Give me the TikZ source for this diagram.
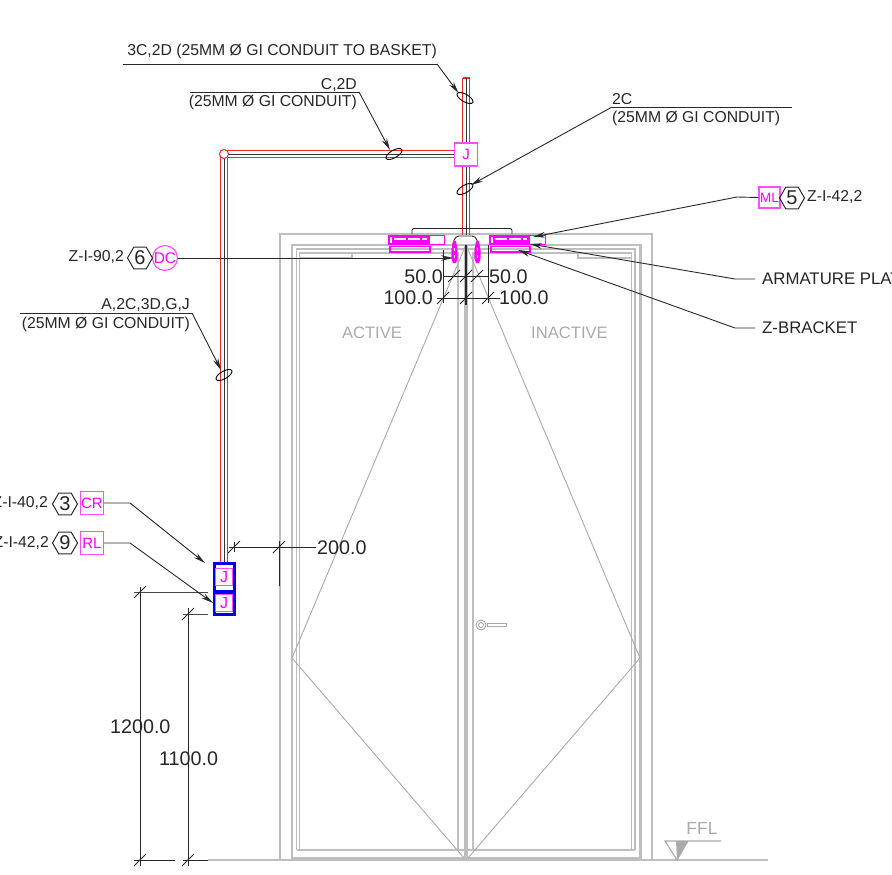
\documentclass[tikz,border=0pt]{standalone}
\usepackage{fontspec}
\setmainfont{Liberation Sans}
\usetikzlibrary{arrows.meta,shapes.geometric,calc}
\definecolor{mag}{RGB}{255,0,255}
\definecolor{gl}{RGB}{170,170,170}
\definecolor{gm}{RGB}{190,190,190}
\definecolor{dk}{RGB}{40,40,40}
\definecolor{redc}{RGB}{240,40,40}
\tikzset{
 x=1pt,y=-1pt,
 lbl/.style={font=\fontsize{15.75}{16}\selectfont,text=black!85,inner sep=0pt},
 lblb/.style={font=\fontsize{16.8}{17}\selectfont,text=black!85,inner sep=0pt},
 dimt/.style={font=\fontsize{19.7}{20}\selectfont,text=black!85,inner sep=0pt},
 graytxt/.style={font=\fontsize{16.6}{17}\selectfont,text=gl,inner sep=0pt},
 leader/.style={draw=dk,line width=0.9pt},
 arrowl/.style={leader,-{Stealth[length=12pt,width=5.5pt]}},
 magbox/.style={draw=mag!70,line width=1.1pt,fill=white,text=mag,inner sep=0pt,font=\fontsize{15}{15}\selectfont,rectangle,minimum width=23pt,minimum height=23pt},
 hexa/.style={regular polygon,regular polygon sides=6,draw=dk,line width=1pt,minimum size=25pt,inner sep=0pt,font=\fontsize{20}{20}\selectfont,text=black!85},
 dline/.style={draw=dk,line width=0.9pt},
 tick/.style={draw=dk,line width=0.9pt},
 frameg/.style={draw=gm,line width=1.1pt},
 framet/.style={draw=gm,line width=2.4pt},
 swing/.style={draw=gl,line width=0.9pt},
 ovalc/.style={ellipse,draw=black,line width=0.9pt,minimum width=18pt,minimum height=7.5pt,inner sep=0pt},
 magthick/.style={draw=mag,line width=1.6pt},
 magthin/.style={draw=mag,line width=0.8pt},
 redl/.style={draw=redc,line width=1.2pt},
 blkl/.style={draw=black!80,line width=1pt},
}
\newcommand{\dimtick}[2]{\draw[tick] (#1-6,#2+6) -- (#1+6,#2-6);}
\begin{document}
\begin{tikzpicture}
\path[use as bounding box] (0,0) rectangle (892,875);
% floor
\draw[draw=gm,line width=1.3pt] (208,860) -- (768,860);
% door frame
\draw[frameg] (280,860) -- (280,234) -- (652,234) -- (652,860);
\draw[framet] (292,858) -- (292,245) -- (640.5,245) -- (640.5,858) -- cycle;
\draw[frameg] (296.5,850) -- (296.5,249) -- (635,249) -- (635,850);
\draw[frameg] (299.5,850) -- (299.5,253) -- (458,253) -- (458,850) -- cycle;
\draw[frameg] (473,850) -- (473,253) -- (631.5,253) -- (631.5,850) -- cycle;
\draw[frameg] (296.5,850) -- (635,850);
\draw[draw=gm,line width=3.5pt] (466,245) -- (466,858);
\draw[frameg] (299.5,258) rectangle (352,253);
\draw[frameg] (578,258) rectangle (631.5,253);
% swing
\draw[swing] (465,247) -- (292,658) -- (464,858);
\draw[swing] (467,247) -- (640,658) -- (468,858);
% handle
\draw[draw=gl,line width=0.9pt,fill=white] (487,623.5) rectangle (506,626.5);
\draw[draw=gl,line width=0.9pt,fill=white] (481,625) circle (5);
\draw[draw=gl,line width=0.9pt] (481,625) circle (2.5);
\node[graytxt] (active) at (372,333) {ACTIVE};
\node[graytxt] (inactive) at (569.5,333) {INACTIVE};
% FFL
\draw[draw=gl,line width=1.1pt] (721,841) -- (665,841) -- (677,860) -- (688,841);
\fill[gl] (676,841) -- (688,841) -- (677,860) -- cycle;
\node[graytxt,font=\fontsize{17.5}{18}\selectfont] (ffl) at (702,828) {FFL};
% conduits
\draw[redl] (462.5,78) -- (469.5,78);
\draw[redl] (462.5,78) -- (462.5,235);
\draw[redl] (469.5,78) -- (469.5,235);
\draw[blkl] (466,78) -- (466,235);
\draw[redl] (224,150.5) -- (454,150.5);
\draw[redl] (227.5,157.5) -- (454,157.5);
\draw[blkl] (224,154) -- (454,154);
\draw[redl] (220.5,154) -- (220.5,562);
\draw[redl] (227.5,157.5) -- (227.5,562);
\draw[blkl] (224,156) -- (224,562);
\draw[redc,line width=1pt,fill=white] (224,154) circle (4.5);
\node[magbox] (jtop) at (466,154.5) {J};
% ovals
\node[ovalc,rotate=-30] (o1) at (465,98) {};
\node[ovalc,rotate=30] (o2) at (394,154) {};
\node[ovalc,rotate=30] (o3) at (465,189) {};
\node[ovalc,rotate=30] (o4) at (224,375) {};
% junction boxes
\fill[blue!90!black] (212.5,562) rectangle (235.5,615.5);
\fill[white] (215.5,565) rectangle (232.5,590);
\fill[white] (215.5,594) rectangle (232.5,612.5);
\node[magbox,minimum width=17pt,minimum height=17pt,font=\fontsize{16}{16}\selectfont] (j1) at (224,577) {J};
\node[magbox,minimum width=17pt,minimum height=17pt,font=\fontsize{16}{16}\selectfont] (j2) at (224,603) {J};
% magnets
\foreach \xa/\xb/\xc in {388/430/444,489/530/545}{
 \draw[magthin] (\xa,235) rectangle (\xc,244);
 \fill[mag] (\xa,234.5) rectangle (\xb,244.5);
 \draw[white,line width=2pt,dash pattern=on 12pt off 2pt] (\xa+6,239) -- (\xb-3,239);
 \fill[white] (\xa+2,236.5) rectangle (\xa+4,242.5);
 \draw[magthick] (\xa+2,246.5) rectangle (\xb,252);
}
\draw[draw=dk,line width=0.9pt,rounded corners=2pt] (412,234) -- (412,228.5) -- (512,228.5) -- (512,234);
\draw[draw=dk,line width=0.9pt,rounded corners=4pt] (453,245) -- (455,236) -- (476,236) -- (478,245);
% contacts
\foreach \x in {454.5,477.5}{
 \fill[mag] (\x-1.5,241) -- (\x+1.5,241) -- (\x+3.2,251) -- (\x+3.2,258) -- (\x+1.5,263) -- (\x-1.5,263) -- (\x-3.2,258) -- (\x-3.2,251) -- cycle;
 \fill[white] (\x-0.8,248) rectangle (\x+0.8,251);
 \fill[white] (\x-0.8,255) rectangle (\x+0.8,258);
}
% small dims at door head
\draw[dline] (443,250) -- (443,303);
\draw[dline,line width=1.3pt] (466,245) -- (466,305);
\draw[dline] (488,245) -- (488,303);
\draw[dline] (443,276) -- (488,276);
\draw[dline] (437,298) -- (500,298);
\foreach \p in {454,466,477}{\dimtick{\p}{276}}
\foreach \p in {443,466,488}{\dimtick{\p}{298}}
\node[dimt,anchor=east] (d50l) at (443,277) {50.0};
\node[dimt,anchor=west] (d50r) at (489,277) {50.0};
\node[dimt,anchor=east] (d100l) at (433,298) {100.0};
\node[dimt,anchor=west] (d100r) at (499,298) {100.0};
% 200
\draw[dline] (234,542) -- (234,552);
\draw[dline] (229,547) -- (316,547);
\draw[dline] (279,541) -- (279,586);
\dimtick{234}{547}\dimtick{279}{547}
\node[dimt,anchor=west] (d200) at (317,548) {200.0};
% 1200 / 1100
\draw[dline,draw=dk!85] (134,592) -- (208,592);
\draw[dline] (140,587) -- (140,866);
\draw[dline,draw=dk!85] (183,614) -- (208,614);
\draw[dline] (188,608) -- (188,866);
\draw[dline] (134,860) -- (175,860);
\draw[dline] (183,860) -- (208,860);
\dimtick{140}{592}\dimtick{188}{614}\dimtick{140}{860}\dimtick{188}{860}
\node[dimt,anchor=west] (d1200) at (110,727) {1200.0};
\node[dimt,anchor=west] (d1100) at (159,759) {1100.0};
% top-left labels
\node[lbl,anchor=east] (t1) at (437,51) {3C,2D (25MM Ø GI CONDUIT TO BASKET)};
\coordinate (t1a) at (123,64); \coordinate (t1b) at (437,64); \coordinate (t1c) at (458.5,93);
\draw[leader] (t1a) -- (t1b); \draw[arrowl] (t1b) -- (t1c);
\node[lbl,anchor=east] (t2) at (357,85) {C,2D};
\node[lbl,anchor=east] (t2b) at (357,102) {(25MM Ø GI CONDUIT)};
\coordinate (t2a) at (190,92); \coordinate (t2c) at (359,92); \coordinate (t2d) at (390,150);
\draw[leader] (t2a) -- (t2c); \draw[arrowl] (t2c) -- (t2d);
\node[lbl,anchor=west] (t3) at (612,99) {2C};
\node[lbl,anchor=west] (t3b) at (612,118) {(25MM Ø GI CONDUIT)};
\coordinate (t3a) at (792,107); \coordinate (t3c) at (612,107); \coordinate (t3d) at (471,185);
\draw[leader] (t3a) -- (t3c); \draw[arrowl] (t3c) -- (t3d);
\node[lbl,anchor=east] (t4) at (190,305) {A,2C,3D,G,J};
\node[lbl,anchor=east] (t4b) at (190,324) {(25MM Ø GI CONDUIT)};
\coordinate (t4a) at (20,313); \coordinate (t4c) at (192,313); \coordinate (t4d) at (221,370);
\draw[leader] (t4a) -- (t4c); \draw[arrowl] (t4c) -- (t4d);
% ML
\node[magbox,minimum width=21pt,minimum height=21pt,font=\fontsize{13.5}{14}\selectfont] (ml) at (769.5,197.5) {ML};
\node[hexa] (h5) at (792,198) {5};
\node[lbl,anchor=west] (zml) at (807,197) {Z-I-42,2};
\coordinate (mlk) at (737,197); \coordinate (mlt) at (533,237);
\draw[arrowl] (ml.west) -- (mlk) -- (mlt);
% armature, z-bracket
\node[lblb,anchor=west] (arm) at (762,279) {ARMATURE PLATE};
\coordinate (armk) at (735,279); \coordinate (armt) at (530,244);
\draw[arrowl] (arm.west) ++(-7,0) -- (armk) -- (armt);
\node[lblb,anchor=west] (zbr) at (762,328) {Z-BRACKET};
\coordinate (zbk) at (735,328); \coordinate (zbt) at (518,250);
\draw[arrowl] (zbr.west) ++(-7,0) -- (zbk) -- (zbt);
% DC
\node[circle,draw=mag!70,line width=1.1pt,fill=white,text=mag,inner sep=0pt,minimum size=24pt,font=\fontsize{15.5}{15}\selectfont] (dc) at (165,258) {DC};
\node[hexa] (h6) at (140,258) {6};
\node[lbl,anchor=east] (zdc) at (124,257) {Z-I-90,2};
\coordinate (dct) at (453,258);
\draw[arrowl] (dc.east) -- (dct);
% CR, RL
\node[magbox] (cr) at (92,503) {CR};
\node[hexa] (h3) at (65,504) {3};
\node[lbl,anchor=east] (zcr) at (48,503) {Z-I-40,2};
\coordinate (crk) at (130,503); \coordinate (crt) at (205,563);
\draw[arrowl] (cr.east) -- (crk) -- (crt);
\node[magbox] (rl) at (92,543) {RL};
\node[hexa] (h9) at (65,543) {9};
\node[lbl,anchor=east] (zrl) at (49,543) {Z-I-42,2};
\coordinate (rlk) at (130,543); \coordinate (rlt) at (213,603);
\draw[arrowl] (rl.east) -- (rlk) -- (rlt);
\end{tikzpicture}
\end{document}
